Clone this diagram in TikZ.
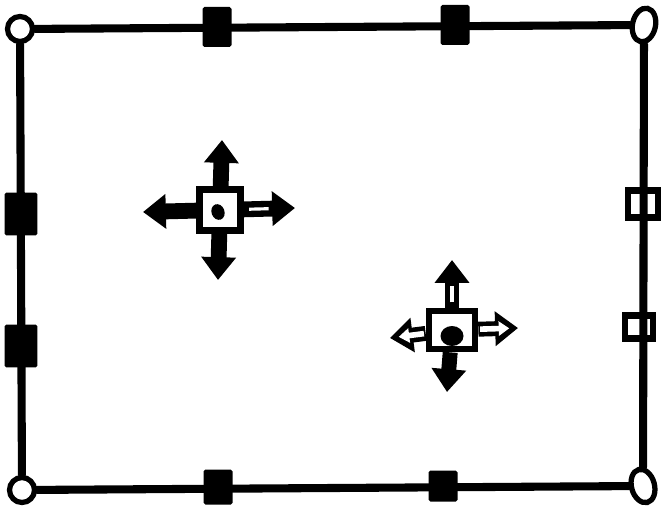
\documentclass[tikz,border=0pt]{standalone}
\usetikzlibrary{arrows.meta, shapes.geometric}

\begin{document}
\begin{tikzpicture}[x=0.02cm, y=-0.02cm,
      frame/.style={line width=4.6pt, line cap=round, line join=round},
      corner/.style={circle, draw, fill=white, line width=3pt, inner sep=0pt, minimum size=0.5cm},
      ocorner/.style={ellipse, draw, fill=white, line width=3pt, inner sep=0pt,
                      minimum width=0.46cm, minimum height=0.68cm},
      grip/.style={rectangle, fill=black, rounded corners=1pt, inner sep=0pt,
                   minimum width=0.58cm, minimum height=0.8cm},
      sidegrip/.style={grip, minimum width=0.66cm, minimum height=0.86cm},
      ogrip/.style={rectangle, draw, fill=white, line width=3.8pt, inner sep=0pt,
                    minimum width=0.6cm, minimum height=0.54cm},
      mover/.style={rectangle, draw, fill=white, line width=3.8pt, inner sep=0pt, minimum size=0.82cm},
      pin/.style={ellipse, fill=black, inner sep=0pt, minimum width=0.26cm, minimum height=0.32cm},
      arr/.style={line width=9pt, -{Triangle[length=13pt, width=19pt]}},
      streak/.style={white, line width=1.8pt, shorten <=3pt, shorten >=15pt},
      hollow/.style={white, line width=3.2pt, shorten <=1pt, -{Triangle[length=6pt, width=8pt]}, shorten >=5pt}]
  \useasboundingbox (0,0) rectangle (671,506);
  % corners
  \node[corner]              (tl) at (20,29)  {};
  \node[ocorner, rotate=-12] (tr) at (644,25)  {};
  \node[corner]              (bl) at (22,490) {};
  \node[ocorner, rotate=15]  (br) at (643,486) {};
  % edge grips
  \node[grip]                (t1) at (217,27)  {};
  \node[grip]                (t2) at (455,25)  {};
  \node[grip, minimum height=0.7cm]  (b1) at (218,487) {};
  \node[grip, minimum height=0.62cm] (b2) at (443,486) {};
  \node[sidegrip]            (l1) at (21,214)  {};
  \node[sidegrip]            (l2) at (21,346)  {};
  \node[ogrip]               (r1) at (643,204) {};
  \node[ogrip, minimum width=0.56cm, minimum height=0.46cm] (r2) at (639,327) {};
  \draw[frame] (tl) -- (tr) -- (br) -- (bl) -- (tl);
  % first move handle
  \node[mover]               (m1) at (220,210) {};
  \node[pin, rotate=20]      (p1) at (218,212) {};
  \coordinate (m1u) at (222,140);
  \coordinate (m1d) at (218,280);
  \coordinate (m1l) at (143,212);
  \coordinate (m1r) at (295,208);
  \foreach \tip in {m1u, m1d, m1l, m1r} \draw[arr] (m1) -- (\tip);
  \draw[streak] (m1) -- (m1r);
  % second move handle
  \node[mover, minimum width=0.92cm, minimum height=0.76cm] (m2) at (452,330) {};
  \node[pin, minimum width=0.46cm, minimum height=0.4cm] (p2) at (452,336) {};
  \coordinate (m2u) at (452,260);
  \coordinate (m2d) at (447,392);
  \coordinate (m2l) at (390,338);
  \coordinate (m2r) at (518,328);
  \foreach \tip in {m2u, m2d, m2l, m2r} \draw[arr, line width=8.5pt] (m2) -- (\tip);
  \draw[streak] (m2) -- (m2u);
  \draw[hollow] (m2) -- (m2l);
  \draw[hollow] (m2) -- (m2r);
\end{tikzpicture}
\end{document}
